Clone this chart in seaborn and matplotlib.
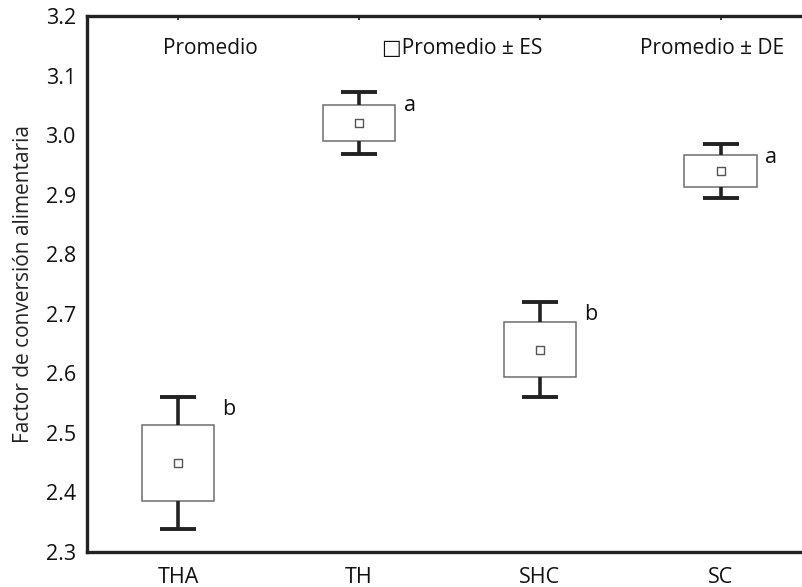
import numpy as np
import pandas as pd
import matplotlib
matplotlib.use("Agg")
import matplotlib.pyplot as plt
import seaborn as sns

# data
grupos = ["THA", "TH", "SHC", "SC"]
promedio = [2.45, 3.02, 2.64, 2.94]
es = [0.064, 0.030, 0.046, 0.027]
de = [0.111, 0.052, 0.080, 0.045]
letras = ["b", "a", "b", "a"]
yticks = [2.3, 2.4, 2.5, 2.6, 2.7, 2.8, 2.9, 3.0, 3.1, 3.2]

df = pd.DataFrame({"grupo": grupos, "prom": promedio, "es": es, "de": de, "letra": letras})
df["x"] = np.arange(len(df))

sns.set_style("white")
plt.rcParams["font.family"] = ["Open Sans", "DejaVu Sans"]

fig = plt.figure(figsize=(8.02, 5.87), dpi=100)
ax = fig.add_axes([0.1085, 0.0596, 0.8915, 0.9131])

# box = mean +/- SE
ax.bar(df["x"], 2 * df["es"], bottom=df["prom"] - df["es"], width=0.4,
       facecolor="white", edgecolor="#6e6e6e", linewidth=1.1, zorder=2)
# whiskers = mean +/- SD
ax.vlines(df["x"], df["prom"] + df["es"], df["prom"] + df["de"], color="#222222", lw=2.6, zorder=3)
ax.vlines(df["x"], df["prom"] - df["de"], df["prom"] - df["es"], color="#222222", lw=2.6, zorder=3)
ax.hlines(df["prom"] + df["de"], df["x"] - 0.1, df["x"] + 0.1, color="#222222", lw=2.8, zorder=3)
ax.hlines(df["prom"] - df["de"], df["x"] - 0.1, df["x"] + 0.1, color="#222222", lw=2.8, zorder=3)

# mean marker
sns.scatterplot(data=df, x="x", y="prom", marker="s", s=28, facecolor="white",
                edgecolor="#555555", linewidth=1.0, ax=ax, zorder=4, legend=False)

# significance letters
for _, r in df.iterrows():
    ax.text(r["x"] + 0.28, r["prom"] + r["de"] - 0.022, r["letra"], fontsize=15.5,
            ha="center", va="center", color="#111111")

# legend-like header
fs = 15
ax.text(0.18, 3.145, "Promedio", fontsize=fs, ha="center", va="center", color="#111111")
ax.text(1.57, 3.145, "\u25a1Promedio \u00b1 ES", fontsize=fs, ha="center", va="center", color="#111111")
ax.text(2.95, 3.145, "Promedio \u00b1 DE", fontsize=fs, ha="center", va="center", color="#111111")

ax.set_xlim(-0.505, 3.45)
ax.set_ylim(2.3, 3.2)
ax.set_xticks(df["x"])
ax.set_xticklabels(grupos)
ax.set_yticks(yticks)
ax.set_yticklabels([f"{v:.1f}" for v in yticks])
ax.set_xlabel("")
ax.set_ylabel("Factor de conversión alimentaria", fontsize=15, labelpad=8, color="#222222")
ax.tick_params(axis="both", labelsize=15.5, colors="#111111", direction="in", length=3,
               width=1.2, top=True, right=False)
ax.tick_params(axis="y", colors="#cccccc", labelcolor="#111111", pad=8)
ax.tick_params(axis="x", pad=11)

for s in ["left", "bottom", "top"]:
    ax.spines[s].set_linewidth(2.4)
    ax.spines[s].set_color("#222222")
ax.spines["right"].set_visible(False)

fig.savefig("out.png", dpi=100)
